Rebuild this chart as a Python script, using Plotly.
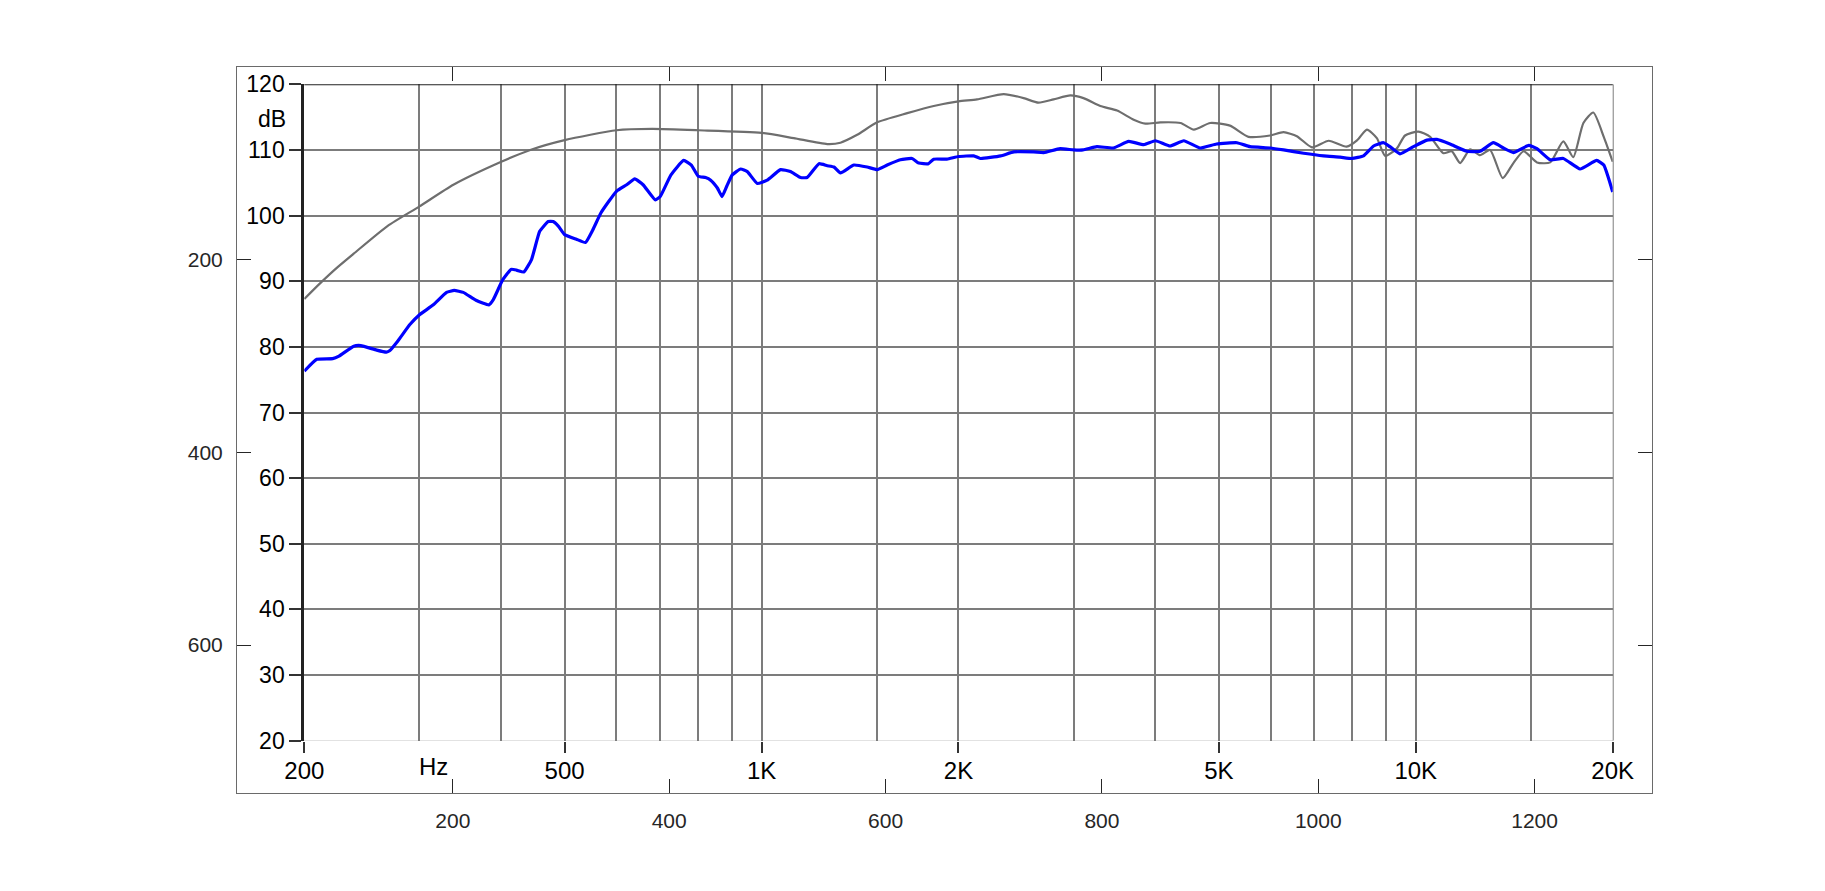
import math
import plotly.graph_objects as go

# ---------------- data ----------------
blue_freq = [200, 209, 221, 226, 238, 244, 258, 267, 270, 278, 290, 300, 315, 330, 339, 350,
             366, 383, 389, 402, 414, 422, 433, 445, 458, 472, 480, 489, 500, 521, 538, 552,
             568, 600, 622, 640, 659, 688, 700, 727, 760, 781, 800, 821, 836, 856, 870, 885,
             902, 929, 951, 985, 1020, 1069, 1107, 1147, 1174, 1224, 1260, 1290, 1320, 1384,
             1450, 1502, 1556, 1630, 1698, 1739, 1799, 1833, 1920, 2000, 2110, 2160, 2320,
             2430, 2605, 2700, 2860, 3000, 3100, 3255, 3450, 3640, 3840, 4000, 4210, 4420,
             4680, 4960, 5330, 5580, 5990, 6280, 6740, 7230, 7660, 7990, 8320, 8620, 8930,
             9130, 9460, 9920, 10400, 10770, 11280, 11970, 12540, 13140, 13610, 14100, 14880,
             15320, 16050, 16810, 17830, 18900, 19380, 20000]
blue_db = [76.3, 78.1, 78.2, 78.6, 80.1, 80.2, 79.5, 79.2, 79.4, 80.9, 83.4, 84.9, 86.4, 88.3, 88.6, 88.3,
           87.1, 86.4, 87.2, 90.2, 91.8, 91.7, 91.4, 93.3, 97.6, 99.1, 99.1, 98.4, 97.1, 96.4, 95.9, 97.8,
           100.4, 103.7, 104.7, 105.6, 104.7, 102.4, 102.9, 106.2, 108.4, 107.7, 106.0, 105.8, 105.4, 104.2, 102.9, 104.5,
           106.2, 107.1, 106.7, 104.9, 105.4, 107.0, 106.7, 105.8, 105.8, 107.9, 107.6, 107.4, 106.5, 107.7,
           107.4, 107.0, 107.7, 108.5, 108.7, 108.0, 107.9, 108.6, 108.6, 109.0, 109.1, 108.7, 109.1,
           109.7, 109.7, 109.6, 110.2, 110.0, 110.0, 110.5, 110.3, 111.3, 110.8, 111.4, 110.6, 111.4,
           110.3, 110.9, 111.1, 110.5, 110.3, 110.0, 109.5, 109.1, 108.9, 108.7, 109.1, 110.6, 111.1,
           110.5, 109.4, 110.5, 111.5, 111.6, 110.9, 109.8, 109.8, 111.1, 110.3, 109.6, 110.7,
           110.2, 108.5, 108.7, 107.1, 108.4, 107.7, 103.6]

gray_freq = [200, 211, 224, 238, 268, 300, 338, 400, 443, 500, 600, 680, 800, 1000, 1120, 1260,
             1320, 1400, 1502, 1670, 1833, 2000, 2135, 2345, 2515, 2650, 2795, 2965, 3105, 3295,
             3495, 3705, 3860, 4070, 4370, 4580, 4850, 5200, 5550, 5990, 6280, 6580, 6940, 7360,
             7840, 8140, 8420, 8720, 8980, 9350, 9630, 10090, 10520, 11020, 11350, 11690, 12110,
             12540, 12990, 13580, 14100, 14620, 15320, 16050, 16810, 17410, 18040, 18680, 19380, 20000]
gray_db = [87.3, 89.6, 92.0, 94.2, 98.4, 101.4, 104.7, 108.2, 110.0, 111.5, 113.0, 113.2, 113.0, 112.6, 111.8, 110.9,
           111.1, 112.3, 114.2, 115.6, 116.7, 117.4, 117.7, 118.5, 117.9, 117.2, 117.7, 118.3, 117.9, 116.7,
           116.0, 114.6, 114.0, 114.2, 114.1, 113.1, 114.1, 113.7, 112.0, 112.2, 112.7, 112.1, 110.4, 111.4,
           110.5, 111.5, 113.1, 111.8, 109.1, 110.2, 112.2, 112.8, 112.0, 109.5, 109.8, 108.0, 110.1,
           109.2, 110.0, 105.7, 108.0, 109.8, 108.1, 108.1, 111.3, 108.9, 114.1, 115.7, 112.0, 108.2]

# inner chart axes
freq_tick_vals = [200, 500, 1000, 2000, 5000, 10000, 20000]
freq_tick_text = ["200", "500", "1K", "2K", "5K", "10K", "20K"]
freq_grid_minor = [300, 400, 600, 700, 800, 900, 1500, 3000, 4000, 6000, 7000, 8000, 9000, 15000]
db_tick_vals = [20, 30, 40, 50, 60, 70, 80, 90, 100, 110, 120]
freq_range = [200, 20000]
db_range = [20, 120]
hz_label_freq = 300
db_label_value = 114.7

# outer (image pixel) axes
outer_x_ticks = [200, 400, 600, 800, 1000, 1200]
outer_y_ticks = [200, 400, 600]
outer_x_range = [0.5, 1308.5]
outer_y_range = [753.5, 0.5]

FONT = "Liberation Sans, Arial, Helvetica, sans-serif"
GRID = "#7c7c7c"

fig = go.Figure()
# empty trace so the outer (pixel) axes are drawn
fig.add_trace(go.Scatter(x=[], y=[], xaxis="x", yaxis="y", mode="lines",
                         hoverinfo="skip", showlegend=False))
fig.add_trace(go.Scatter(
    x=gray_freq, y=gray_db, xaxis="x2", yaxis="y2", mode="lines",
    line=dict(color="#6e6e6e", width=2.2, shape="spline", smoothing=0.6),
    hoverinfo="skip", showlegend=False))
fig.add_trace(go.Scatter(
    x=blue_freq, y=blue_db, xaxis="x2", yaxis="y2", mode="lines",
    line=dict(color="#0000ff", width=3.2, shape="spline", smoothing=0.4),
    hoverinfo="skip", showlegend=False))

fig.update_layout(
    width=1825, height=891,
    margin=dict(l=229, r=181, t=59, b=106),
    paper_bgcolor="white", plot_bgcolor="white",
    showlegend=False,
    xaxis=dict(
        range=outer_x_range, tickvals=outer_x_ticks, ticks="inside", ticklen=14,
        tickwidth=1, tickcolor="#262626", showline=True, linecolor="#6a6a6a", linewidth=1,
        mirror="ticks", showgrid=False, zeroline=False, ticklabelstandoff=9,
        tickfont=dict(family=FONT, size=21, color="#262626"),
    ),
    yaxis=dict(
        range=outer_y_range, tickvals=outer_y_ticks, ticks="inside", ticklen=14,
        tickwidth=1, tickcolor="#262626", showline=True, linecolor="#6a6a6a", linewidth=1,
        mirror="ticks", showgrid=False, zeroline=False, ticklabelstandoff=9,
        tickfont=dict(family=FONT, size=21, color="#262626"),
    ),
    xaxis2=dict(
        type="log", range=[math.log10(freq_range[0]), math.log10(freq_range[1])],
        domain=[0.04756, 0.97223], anchor="y2",
        tickvals=freq_tick_vals, ticktext=freq_tick_text,
        ticks="outside", ticklen=11, tickwidth=1.5, tickcolor="#333333",
        showgrid=True, gridcolor=GRID, gridwidth=2,
        minor=dict(tickvals=freq_grid_minor, showgrid=True, gridcolor=GRID, gridwidth=2, ticks=""),
        showline=False, zeroline=False, ticklabelstandoff=-2,
        tickfont=dict(family=FONT, size=24, color="black"),
    ),
    yaxis2=dict(
        range=db_range, domain=[0.07204, 0.97617], anchor="x2",
        tickvals=db_tick_vals, ticks="outside", ticklen=12, tickwidth=1.5, tickcolor="#333333",
        showgrid=True, gridcolor=GRID, gridwidth=2,
        showline=True, linecolor="#222222", linewidth=3, zeroline=False,
        tickfont=dict(family=FONT, size=23, color="black"),
    ),
)

# top frame line of inner chart (dark) and right/bottom gray edges
fig.add_shape(type="line", xref="x2 domain", yref="y2", x0=0, x1=1, y0=db_range[1], y1=db_range[1],
              line=dict(color="#222222", width=2), layer="above")
fig.add_shape(type="line", xref="x2 domain", yref="y2", x0=1, x1=1, y0=db_range[0], y1=db_range[1],
              line=dict(color=GRID, width=2), layer="below")
fig.add_shape(type="line", xref="x2 domain", yref="y2", x0=0, x1=1, y0=db_range[0], y1=db_range[0],
              line=dict(color=GRID, width=2), layer="below")

fig.add_annotation(text="Hz", xref="x2", yref="y2 domain", x=math.log10(hz_label_freq), y=0,
                   yanchor="middle", xanchor="left", xshift=-2, yshift=-26, showarrow=False,
                   font=dict(family=FONT, size=24, color="black"))
fig.add_annotation(text="dB", xref="x2 domain", yref="y2", x=0, y=db_label_value,
                   xanchor="right", yanchor="middle", xshift=-16, showarrow=False,
                   font=dict(family=FONT, size=23, color="black"))

fig.write_html("out.html")
